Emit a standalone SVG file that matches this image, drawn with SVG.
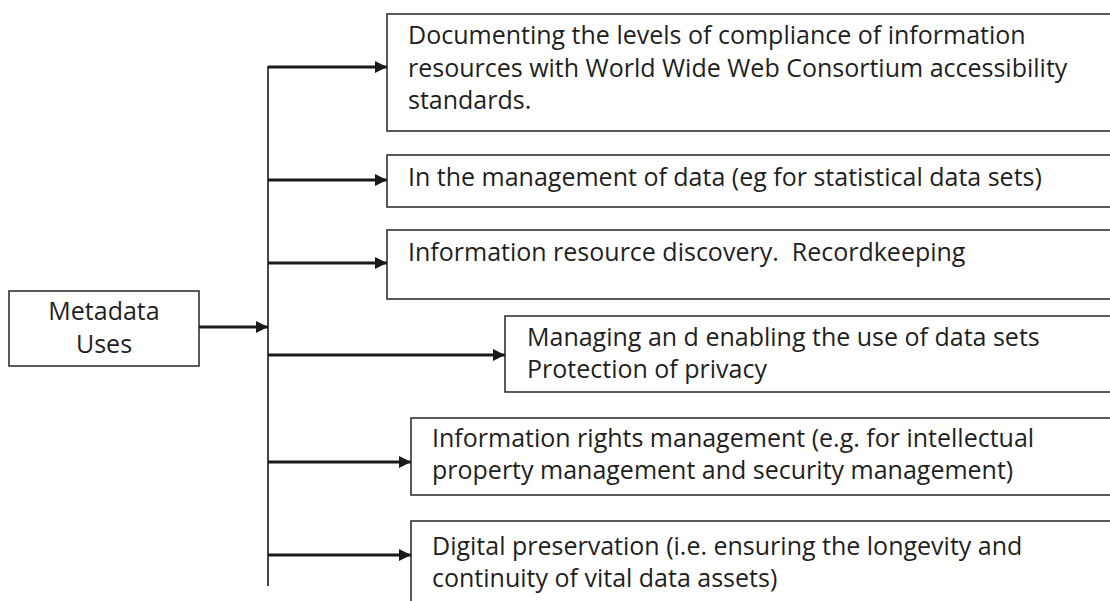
<svg xmlns="http://www.w3.org/2000/svg" width="1110" height="601" viewBox="0 0 1110 601">
  <style>
    .box { fill: #ffffff; stroke: #262626; stroke-width: 1.5; }
    .lbl { font-family: "Open Sans", "Noto Sans", sans-serif; font-size: 25px; fill: #1f1f1f; }
    .trunk { stroke: #1a1a1a; stroke-width: 1.6; fill: none; }
    .arr { stroke: #1a1a1a; stroke-width: 3; fill: none; marker-end: url(#head); }
  </style>
  <defs>
    <marker id="head" viewBox="0 0 10 10" refX="10" refY="5" markerWidth="5" markerHeight="4" markerUnits="strokeWidth" orient="auto">
      <path d="M0,0 L10,5 L0,10 z" fill="#1a1a1a"/>
    </marker>
  </defs>
  <rect width="1110" height="601" fill="#ffffff"/>

  <g id="connectors">
    <line class="trunk" x1="268" y1="66" x2="268" y2="586"/>
    <line class="arr" x1="199" y1="327" x2="268" y2="327"/>
    <line class="arr" x1="268" y1="67" x2="387" y2="67"/>
    <line class="arr" x1="268" y1="180" x2="387" y2="180"/>
    <line class="arr" x1="268" y1="263" x2="387" y2="263"/>
    <line class="arr" x1="268" y1="355" x2="505" y2="355"/>
    <line class="arr" x1="268" y1="462" x2="411" y2="462"/>
    <line class="arr" x1="268" y1="555" x2="411" y2="555"/>
  </g>

  <g id="metadata-uses">
    <rect class="box" x="9" y="291" width="190" height="75"/>
    <text class="lbl" x="104" y="320" text-anchor="middle">Metadata</text>
    <text class="lbl" x="104" y="353" text-anchor="middle">Uses</text>
  </g>

  <!-- the right-hand boxes run past the right edge of the canvas -->
  <g id="accessibility">
    <rect class="box" x="387" y="14" width="740" height="117"/>
    <text class="lbl" x="408" y="44">Documenting the levels of compliance of information</text>
    <text class="lbl" x="408" y="77">resources with World Wide Web Consortium accessibility</text>
    <text class="lbl" x="408" y="109">standards.</text>
  </g>

  <g id="data-management">
    <rect class="box" x="387" y="155" width="740" height="52"/>
    <text class="lbl" x="408" y="186">In the management of data (eg for statistical data sets)</text>
  </g>

  <g id="resource-discovery">
    <rect class="box" x="387" y="230" width="740" height="69"/>
    <text class="lbl" x="408" y="261" xml:space="preserve">Information resource discovery.  Recordkeeping</text>
  </g>

  <g id="data-sets">
    <rect class="box" x="505" y="316" width="622" height="76"/>
    <text class="lbl" x="527" y="346" xml:space="preserve">Managing an d enabling the use of data sets</text>
    <text class="lbl" x="527" y="378">Protection of privacy</text>
  </g>

  <g id="rights-management">
    <rect class="box" x="411" y="418" width="716" height="77"/>
    <text class="lbl" x="432" y="447">Information rights management (e.g. for intellectual</text>
    <text class="lbl" x="432" y="479">property management and security management)</text>
  </g>

  <g id="digital-preservation">
    <rect class="box" x="411" y="521" width="716" height="100"/>
    <text class="lbl" x="432" y="555">Digital preservation (i.e. ensuring the longevity and</text>
    <text class="lbl" x="432" y="587">continuity of vital data assets)</text>
  </g>
</svg>
